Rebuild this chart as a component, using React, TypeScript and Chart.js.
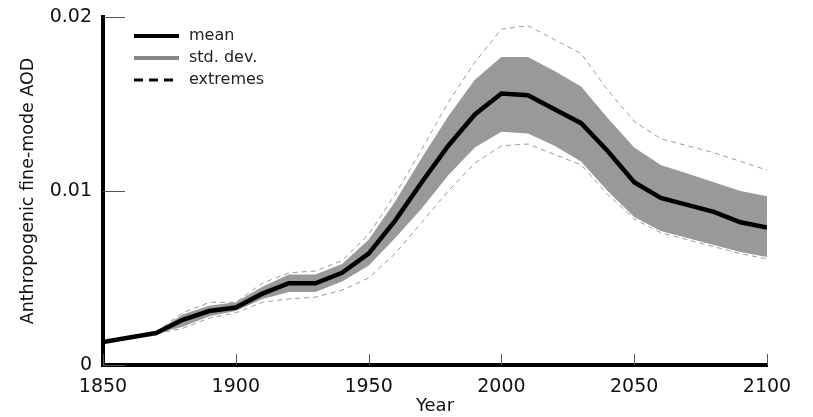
import React, { useEffect, useRef } from "react";
import { Chart, registerables } from "chart.js";

Chart.register(...registerables);

const years = [1850, 1860, 1870, 1880, 1890, 1900, 1910, 1920, 1930, 1940, 1950, 1960, 1970, 1980, 1990, 2000, 2010, 2020, 2030, 2040, 2050, 2060, 2070, 2080, 2090, 2100];
const meanValues = [0.00132, 0.00158, 0.00184, 0.0026, 0.0031, 0.0033, 0.0041, 0.0047, 0.0047, 0.0053, 0.0064, 0.0083, 0.0105, 0.0126, 0.0144, 0.0156, 0.0155, 0.0147, 0.0139, 0.0123, 0.0105, 0.0096, 0.0092, 0.0088, 0.0082, 0.0079];
const stdUpper = [0.00132, 0.00158, 0.0019, 0.0029, 0.0034, 0.0036, 0.0045, 0.0052, 0.0052, 0.0058, 0.0072, 0.0094, 0.0119, 0.0143, 0.0164, 0.0177, 0.0177, 0.0169, 0.016, 0.0142, 0.0125, 0.0115, 0.011, 0.0105, 0.01, 0.0097];
const stdLower = [0.00132, 0.00158, 0.0018, 0.0022, 0.0028, 0.0031, 0.0038, 0.0042, 0.0042, 0.0048, 0.0057, 0.0073, 0.009, 0.0109, 0.0125, 0.0134, 0.0133, 0.0126, 0.0117, 0.01, 0.0085, 0.0077, 0.0073, 0.0069, 0.0065, 0.0062];
const extremeUpper = [0.00132, 0.00158, 0.0019, 0.003, 0.0036, 0.0036, 0.0047, 0.0053, 0.0054, 0.006, 0.0075, 0.0098, 0.0124, 0.0151, 0.0174, 0.0193, 0.0195, 0.0187, 0.0179, 0.0158, 0.014, 0.013, 0.0126, 0.0122, 0.0117, 0.0112];
const extremeLower = [0.00132, 0.00158, 0.0018, 0.0021, 0.0027, 0.003, 0.0036, 0.0038, 0.0039, 0.0043, 0.005, 0.0064, 0.0082, 0.01, 0.0116, 0.0126, 0.0127, 0.0121, 0.0115, 0.0098, 0.0084, 0.0076, 0.0072, 0.0068, 0.0064, 0.0061];

const xTicks = [1850, 1900, 1950, 2000, 2050, 2100];
const yTicks = [0, 0.01, 0.02];
const yTickLabels = ["0", "0.01", "0.02"];
const legendLabels = ["mean", "std. dev.", "extremes"];
const xTitle = "Year";
const yTitle = "Anthropogenic fine-mode AOD";

const FONT = "'DejaVu Sans', sans-serif";

const pts = (vals: number[]) => years.map((y, i) => ({ x: y, y: vals[i] }));

const extrasPlugin = {
  id: "extras",
  afterDraw(chart: any) {
    const ctx = chart.ctx;
    const xs = chart.scales.x;
    const ys = chart.scales.y;
    const area = chart.chartArea;
    ctx.save();
    // inward ticks
    ctx.strokeStyle = "#555";
    ctx.lineWidth = 1;
    xTicks.forEach((t) => {
      const px = Math.round(xs.getPixelForValue(t)) + 0.5;
      ctx.beginPath();
      ctx.moveTo(px, area.bottom);
      ctx.lineTo(px, area.bottom - 11);
      ctx.stroke();
    });
    yTicks.forEach((t) => {
      const py = Math.round(ys.getPixelForValue(t)) + 0.5;
      ctx.beginPath();
      ctx.moveTo(area.left, py);
      ctx.lineTo(area.left + 22, py);
      ctx.stroke();
    });
    // legend
    const lx0 = area.left + 31;
    const lx1 = area.left + 76;
    const styles = [
      { color: "#000", width: 4, dash: [] as number[] },
      { color: "#888", width: 4, dash: [] as number[] },
      { color: "#000", width: 3, dash: [9, 6] },
    ];
    ctx.font = "16px " + FONT;
    ctx.textBaseline = "middle";
    ctx.textAlign = "left";
    legendLabels.forEach((lab, i) => {
      const y = area.top + 19 + i * 22;
      const s = styles[i];
      ctx.beginPath();
      ctx.setLineDash(s.dash);
      ctx.strokeStyle = s.color;
      ctx.lineWidth = s.width;
      ctx.moveTo(lx0, y);
      ctx.lineTo(lx1, y);
      ctx.stroke();
      ctx.setLineDash([]);
      ctx.fillStyle = "#222";
      ctx.fillText(lab, lx1 + 10, y);
    });
    ctx.restore();
  },
};

export default function App() {
  const ref = useRef<HTMLCanvasElement | null>(null);
  useEffect(() => {
    document.body.style.margin = "0";
    const canvas = ref.current;
    if (!canvas) return;
    const chart = new Chart(canvas, {
      type: "line",
      data: {
        datasets: [
          { label: "mean", data: pts(meanValues), borderColor: "#000", borderWidth: 4.5, pointRadius: 0, fill: false, tension: 0 },
          { label: "std upper", data: pts(stdUpper), borderColor: "rgba(0,0,0,0)", borderWidth: 0, backgroundColor: "#999999", pointRadius: 0, fill: "+1", tension: 0 },
          { label: "std lower", data: pts(stdLower), borderColor: "rgba(0,0,0,0)", borderWidth: 0, pointRadius: 0, fill: false, tension: 0 },
          { label: "ext upper", data: pts(extremeUpper), borderColor: "#9a9a9a", borderWidth: 1, borderDash: [5, 4], pointRadius: 0, fill: false, tension: 0 },
          { label: "ext lower", data: pts(extremeLower), borderColor: "#9a9a9a", borderWidth: 1, borderDash: [5, 4], pointRadius: 0, fill: false, tension: 0 },
        ],
      },
      options: {
        responsive: false,
        animation: false,
        events: [],
        layout: { padding: { left: 0, right: 46, top: 17, bottom: 0 } },
        plugins: { legend: { display: false }, tooltip: { enabled: false } },
        scales: {
          x: {
            type: "linear",
            min: 1850,
            max: 2100,
            afterBuildTicks: (scale: any) => {
              scale.ticks = xTicks.map((v) => ({ value: v }));
            },
            afterFit: (scale: any) => {
              scale.height = 52;
            },
            grid: { display: false },
            border: { display: true, color: "#000", width: 4 },
            ticks: { color: "#111", font: { family: FONT, size: 19 }, padding: 3, maxRotation: 0, callback: (v: any) => String(v) },
            title: { display: true, text: xTitle, color: "#111", font: { family: FONT, size: 18 }, padding: { top: 0, bottom: 0 } },
          },
          y: {
            type: "linear",
            min: 0,
            max: 0.02,
            afterBuildTicks: (scale: any) => {
              scale.ticks = yTicks.map((v) => ({ value: v }));
            },
            afterFit: (scale: any) => {
              scale.width = 103;
            },
            grid: { display: false },
            border: { display: true, color: "#000", width: 4 },
            ticks: {
              color: "#111",
              font: { family: FONT, size: 19 },
              padding: 3,
              callback: (v: any) => {
                const i = yTicks.indexOf(Number(v));
                return i >= 0 ? yTickLabels[i] : "";
              },
            },
            title: { display: true, text: yTitle, color: "#111", font: { family: FONT, size: 17.5 }, padding: { top: 18, bottom: 0 } },
          },
        },
      },
      plugins: [extrasPlugin],
    } as any);
    return () => chart.destroy();
  }, []);
  return (
    <div style={{ width: 813, height: 417, background: "#fff" }}>
      <canvas ref={ref} width={813} height={417} style={{ display: "block" }} />
    </div>
  );
}
